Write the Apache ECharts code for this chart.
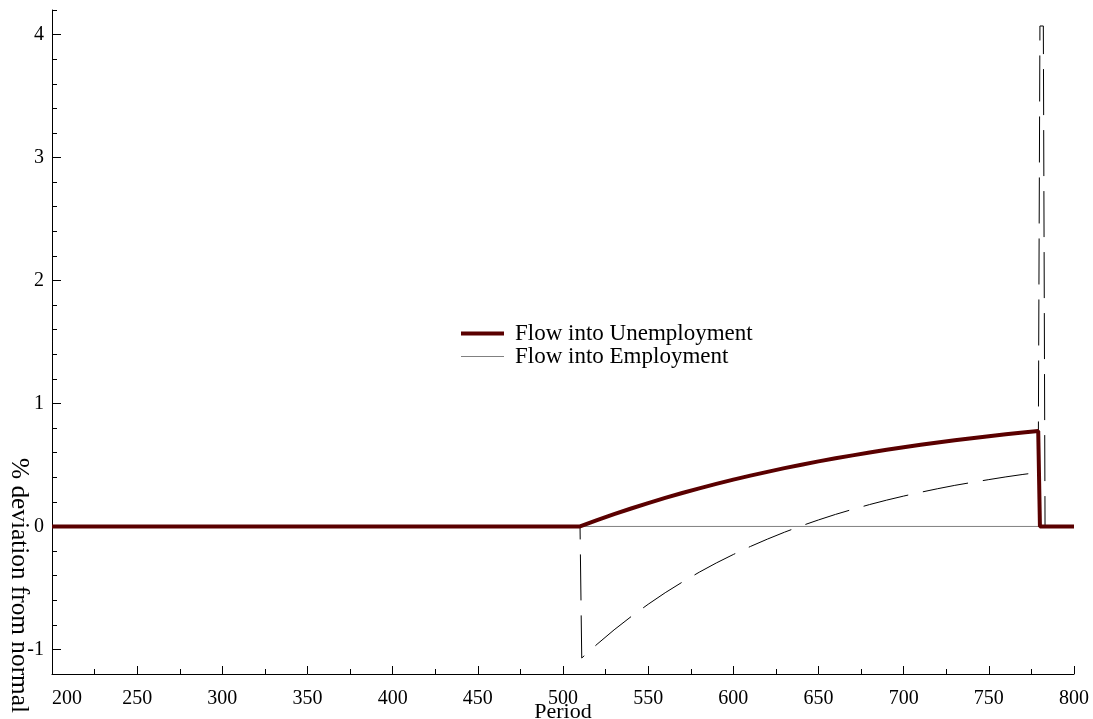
<!DOCTYPE html>
<html>
<head>
<meta charset="utf-8">
<script src="https://cdn.jsdelivr.net/npm/echarts@6/dist/echarts.min.js"></script>
<style>
html,body{margin:0;padding:0;background:#fff;}
#chart{width:1093px;height:719px;}
</style>
</head>
<body>
<div id="chart"></div>
<script>
// ---- data ----
const uPeriods = [200,510,520,530,540,550,560,570,580,590,600,610,620,630,640,650,660,670,680,690,700,710,720,730,740,750,760,770,779,780,800];
const uValues  = [0,0,0.051,0.100,0.146,0.190,0.232,0.272,0.310,0.346,0.381,0.413,0.444,0.474,0.502,0.529,0.554,0.578,0.601,0.623,0.644,0.664,0.683,0.701,0.718,0.734,0.749,0.764,0.776,0,0];

const ePeriods = [200,510,511,520,530,540,550,560,570,580,590,600,610,620,630,640,650,660,670,680,690,700,710,720,730,740,750,760,770,779,780,782,783,800];
const eValues  = [0,0,-1.07,-0.958,-0.841,-0.733,-0.633,-0.539,-0.453,-0.372,-0.297,-0.228,-0.163,-0.103,-0.047,0.005,0.053,0.098,0.139,0.178,0.214,0.247,0.278,0.307,0.334,0.358,0.381,0.403,0.423,0.439,4.07,4.07,0,0];

const zeroPeriods = [510,780];
const zeroValues  = [0,0];

const seriesNames = ['Flow into Unemployment','Flow into Employment'];
const yTickValues = [-1,0,1,2,3,4];
const xAxisTitle = 'Period';
const yAxisTitle = '% deviation from normal';

const pairs = (xs, ys) => xs.map((x, i) => [x, ys[i]]);
const FONT = '"Liberation Serif", "DejaVu Serif", serif';

const chart = echarts.init(document.getElementById('chart'), null, {renderer: 'canvas'});
chart.setOption({
  animation: false,
  backgroundColor: '#ffffff',
  textStyle: {fontFamily: FONT},
  grid: {left: 52, right: 19, top: 10, bottom: 45, containLabel: false, outerBoundsMode: 'none'},
  legend: {
    orient: 'vertical',
    left: 454,
    top: 317,
    itemWidth: 43,
    itemHeight: 12,
    itemGap: 0,
    itemStyle: {opacity: 0},
    textStyle: {fontFamily: FONT, fontSize: 23, color: '#000', lineHeight: 21, padding: [0, 0, 0, 6]},
    data: [
      {name: seriesNames[0], lineStyle: {color: '#5a0000', type: 'solid', width: 4}, itemStyle: {opacity: 0}},
      {name: seriesNames[1], lineStyle: {color: '#808080', type: 'solid', width: 1}, itemStyle: {opacity: 0}}
    ]
  },
  xAxis: {
    type: 'value',
    min: 200, max: 800, interval: 50,
    name: xAxisTitle,
    nameLocation: 'middle',
    nameGap: 27,
    nameMoveOverlap: false,
    nameTextStyle: {fontFamily: FONT, fontSize: 22, color: '#000'},
    axisLine: {show: true, onZero: false, lineStyle: {color: '#000', width: 1}},
    axisTick: {show: true, inside: true, length: 8, lineStyle: {color: '#000'}},
    minorTick: {show: true, splitNumber: 2, length: 5, lineStyle: {color: '#000'}},
    axisLabel: {fontFamily: FONT, fontSize: 20, color: '#000', margin: 15, alignMinLabel: 'left'},
    splitLine: {show: false}
  },
  yAxis: [
    {
      type: 'value',
      min: -1.2, max: 4.2, interval: 0.2,
      axisLine: {show: true, onZero: false, lineStyle: {color: '#000', width: 1}},
      axisTick: {show: true, inside: true, length: 5, lineStyle: {color: '#000'}},
      axisLabel: {fontFamily: FONT, fontSize: 20, color: '#000', margin: 8, customValues: yTickValues},
      splitLine: {show: false}
    },
    {
      type: 'value',
      min: -1.2, max: 4.2, position: 'left',
      axisLine: {show: false},
      axisTick: {show: true, inside: true, length: 9, lineStyle: {color: '#000'}, customValues: yTickValues},
      axisLabel: {show: false},
      splitLine: {show: false}
    }
  ],
  graphic: [{
    type: 'text',
    x: 19, y: 458,
    rotation: -Math.PI / 2,
    style: {text: yAxisTitle, fontFamily: FONT, fontSize: 25.3, fill: '#000', align: 'left', verticalAlign: 'middle'},
    z: 100
  }],
  series: [
    {
      name: '_zero', type: 'line', symbol: 'none', silent: true, z: 1,
      data: pairs(zeroPeriods, zeroValues),
      lineStyle: {color: '#808080', width: 1}
    },
    {
      name: seriesNames[1], type: 'line', symbol: 'none', z: 2,
      data: pairs(ePeriods, eValues),
      lineStyle: {color: '#000', width: 1, type: [46, 15], dashOffset: 54},
      itemStyle: {color: '#808080'}
    },
    {
      name: seriesNames[0], type: 'line', symbol: 'none', z: 3,
      data: pairs(uPeriods, uValues),
      lineStyle: {color: '#5a0000', width: 4},
      itemStyle: {color: '#5a0000'}
    }
  ]
});
</script>
</body>
</html>
